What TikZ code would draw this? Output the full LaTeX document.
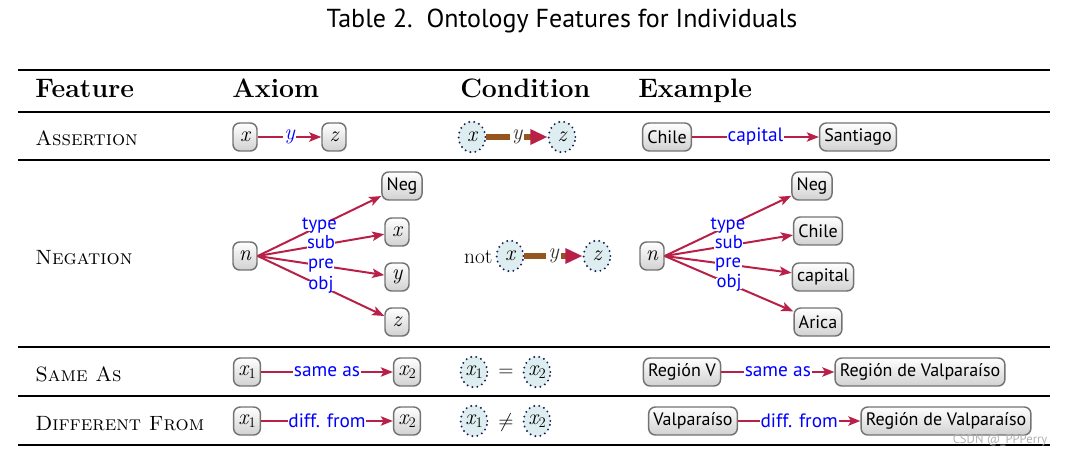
\documentclass[tikz,border=0pt]{standalone}
\usepackage{fix-cm}
\usepackage{fontspec}
\newfontfamily\sansf{PT Sans}
\usetikzlibrary{arrows.meta,shapes.geometric}
\newcommand\iv[1]{{\rmfamily\itshape\fontsize{16.5}{17}\selectfont #1}}
\newcommand\ivs[2]{{\rmfamily\itshape\fontsize{16.5}{17}\selectfont #1}\kern0.3pt\raisebox{-0.4ex}{\rmfamily\upshape\fontsize{11}{11}\selectfont #2}}
\definecolor{crim}{RGB}{185,32,72}
\definecolor{brn}{RGB}{150,85,30}
\definecolor{cfill}{RGB}{222,238,240}
\definecolor{dotc}{RGB}{20,30,80}
\definecolor{lbl}{RGB}{0,0,255}
\tikzset{
  ent/.style={draw=black!55, line width=1.1pt, rounded corners=5pt, top color=white, bottom color=black!18,
    minimum height=21pt, minimum width=18pt, inner xsep=3.5pt, inner ysep=2pt, font=\sansf\fontsize{13.5}{15}\selectfont},
  var/.style={ellipse, draw=dotc, fill=cfill, line width=1.6pt, dash pattern=on 0pt off 3.8pt, line cap=round,
    minimum width=20pt, minimum height=23pt, inner sep=0pt, font=\fontsize{14}{15}\selectfont},
  arr/.style={crim, line width=1.5pt, -{Stealth[length=9pt,width=7pt,inset=2pt]}},
  lab/.style={font=\sansf\fontsize{14.5}{16}\selectfont, text=lbl, fill=white, inner sep=0.6pt},
  nlab/.style={lab, font=\sansf\fontsize{14}{15}\selectfont, text height=0.62em, text depth=0.12em, inner sep=0.3pt},
  cond/.style={brn, line width=4.5pt, -{Triangle[length=13pt,width=11pt,color=crim]}},
  clab/.style={text=black!80, fill=white, inner sep=1.5pt},
  hdr/.style={anchor=base west, inner sep=0pt, font=\fontsize{20}{22}\selectfont\bfseries},
  rowl/.style={anchor=base west, inner sep=0pt, font=\fontsize{15.5}{17}\selectfont\scshape},
  rulethin/.style={line width=1.2pt},
  rulethick/.style={line width=1.6pt}
}
\begin{document}
\begin{tikzpicture}[x=0.75pt,y=-0.75pt]
\useasboundingbox (0,0) rectangle (1068,456);
% title
\node[anchor=base, font=\sansf\fontsize{19.5}{21}\selectfont] (title) at (562,28) {Table 2.\ \ Ontology Features for Individuals};
% rules
\draw[rulethick] (18,70) -- (1050,70);
\draw[rulethin] (18,112) -- (1050,112);
\draw[rulethin] (18,160) -- (1050,160);
\draw[rulethin] (18,347) -- (1050,347);
\draw[rulethin] (18,396) -- (1050,396);
\draw[rulethick] (18,445) -- (1050,445);
% headers
\node[hdr] (h1) at (35,98) {Feature};
\node[hdr] (h2) at (232,98) {Axiom};
\node[hdr] (h3) at (460,98) {Condition};
\node[hdr] (h4) at (638,98) {Example};
% row labels
\node[rowl] (r1) at (35,146) {Assertion};
\node[rowl] (r2) at (35,264) {Negation};
\node[rowl] (r3) at (35,381) {Same As};
\node[rowl] (r4) at (35,430) {Different From};

% ---- Assertion
\node[ent] (ax) at (245,137) {\iv{x}};
\node[ent] (az) at (334,137) {\iv{z}};
\draw[arr] (ax) -- node[lab]{\iv{y}} (az);
\node[var] (cx) at (472,137) {\iv{x}};
\node[var] (cz) at (562,137) {\iv{z}};
\draw[cond] (cx) -- node[clab]{\iv{y}} (cz);
\node[ent] (e1) at (667,137) {Chile};
\node[ent] (e2) at (858,137) {Santiago};
\draw[arr] (e1) -- node[lab]{capital} (e2);

% ---- Negation axiom
\node[ent] (nn) at (245,256) {\iv{n}};
\node[ent] (nneg) at (402,186) {Neg};
\node[ent] (nx) at (397,232) {\iv{x}};
\node[ent] (ny) at (397,277) {\iv{y}};
\node[ent] (nz) at (397,322) {\iv{z}};
\draw[arr] (nn.east) -- node[nlab]{type} (nneg);
\draw[arr] (nn.east) -- node[nlab]{sub} (nx);
\draw[arr] (nn.east) -- node[nlab]{pre} (ny);
\draw[arr] (nn.east) -- node[nlab]{obj} (nz);
% Negation condition
\node[anchor=east, font=\fontsize{16}{18}\selectfont, inner sep=1pt] (nnot) at (494,257) {not};
\node[var] (ncx) at (510,256) {\iv{x}};
\node[var] (ncz) at (597,256) {\iv{z}};
\draw[cond] (ncx) -- node[clab]{\iv{y}} (ncz);
% Negation example
\node[ent] (en) at (652,256) {\iv{n}};
\node[ent] (eneg) at (812,186) {Neg};
\node[ent] (echile) at (818,231) {Chile};
\node[ent] (ecap) at (823,277) {capital};
\node[ent] (earica) at (818,322) {Arica};
\draw[arr] (en.east) -- node[nlab]{type} (eneg);
\draw[arr] (en.east) -- node[nlab]{sub} (echile);
\draw[arr] (en.east) -- node[nlab]{pre} (ecap);
\draw[arr] (en.east) -- node[nlab]{obj} (earica);

% ---- Same As
\node[ent] (sx1) at (247,372) {\ivs{x}{1}};
\node[ent] (sx2) at (407,372) {\ivs{x}{2}};
\draw[arr] (sx1) -- node[lab]{same as} (sx2);
\node[var] (scx1) at (474,372) {\ivs{x}{1}};
\node[font=\fontsize{15}{16}\selectfont] (seq) at (506,373) {$=$};
\node[var] (scx2) at (537,372) {\ivs{x}{2}};
\node[ent] (sr1) at (682,372) {Región V};
\node[ent] (sr2) at (920,372) {Región de Valparaíso};
\draw[arr] (sr1) -- node[lab]{same as} (sr2);

% ---- Different From
\node[ent] (dx1) at (247,421) {\ivs{x}{1}};
\node[ent] (dx2) at (407,421) {\ivs{x}{2}};
\draw[arr] (dx1) -- node[lab]{diff. from} (dx2);
\node[var] (dcx1) at (474,421) {\ivs{x}{1}};
\node[font=\fontsize{15}{16}\selectfont] (dneq) at (506,422) {$\neq$};
\node[var] (dcx2) at (537,421) {\ivs{x}{2}};
\node[ent] (dr1) at (693,421) {Valparaíso};
\node[ent] (dr2) at (946,421) {Región de Valparaíso};
\draw[arr] (dr1) -- node[lab]{diff. from} (dr2);

% watermark
\node[anchor=base east, font=\sansf\fontsize{9.5}{11}\selectfont, text=black!30] (wm) at (1052,443) {CSDN @\_PPPerry};
\end{tikzpicture}
\end{document}
